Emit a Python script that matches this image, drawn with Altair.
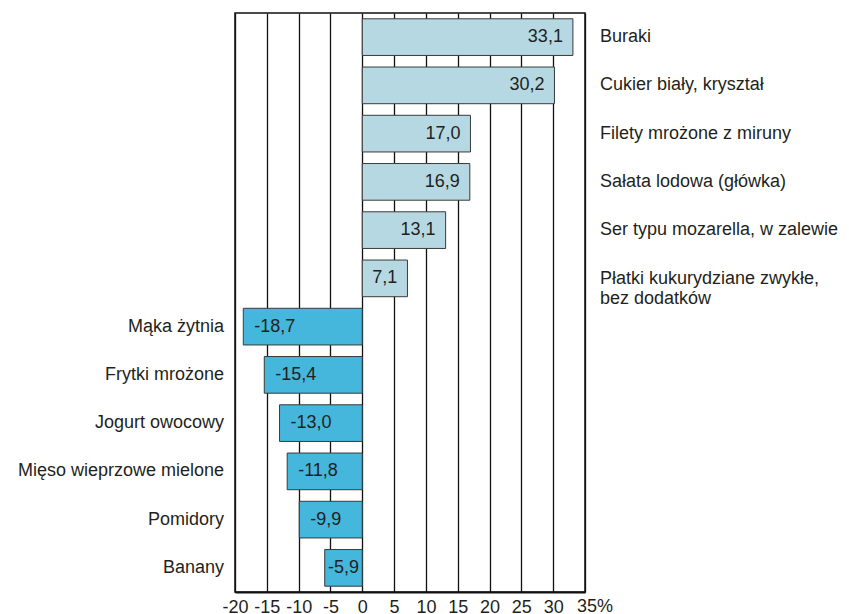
import altair as alt
import pandas as pd

pos_categories = ["Buraki", "Cukier biały, kryształ", "Filety mrożone z miruny",
                  "Sałata lodowa (główka)", "Ser typu mozarella, w zalewie",
                  "Płatki kukurydziane zwykłe,\nbez dodatków"]
pos_values = [33.1, 30.2, 17.0, 16.9, 13.1, 7.1]
neg_categories = ["Mąka żytnia", "Frytki mrożone", "Jogurt owocowy",
                  "Mięso wieprzowe mielone", "Pomidory", "Banany"]
neg_values = [-18.7, -15.4, -13.0, -11.8, -9.9, -5.9]
x_ticks = [-20, -15, -10, -5, 0, 5, 10, 15, 20, 25, 30, 35]
last_tick_label = "35%"

categories = pos_categories + neg_categories
df = pd.DataFrame({"cat": categories, "v": pos_values + neg_values})

FONT = "Liberation Sans"
TXT = "#231f20"
H = 579

base = alt.Chart(df).transform_calculate(
    lab="(datum.v < 0 ? '-' : '') + replace(format(abs(datum.v), '.1f'), '.', ',')",
    mid="datum.v / 2",
)

yenc = alt.Y("cat:N", sort=categories, axis=None,
             scale=alt.Scale(paddingInner=0.24, paddingOuter=0.12))
xscale = alt.Scale(domain=[-20, 35], nice=False, zero=False)
xaxis = alt.Axis(values=x_ticks, grid=True, gridColor="#111", gridWidth=1.3,
                 ticks=False, domainColor="#111", domainWidth=2,
                 labelFont=FONT, labelFontSize=18, labelColor=TXT,
                 labelPadding=6, labelOverlap=False, labelFlush=False,
                 labelExpr="datum.value == 35 ? '' : '' + datum.value")


def xenc(field):
    return alt.X(field, scale=xscale, title=None, axis=xaxis)


bars = base.mark_bar(stroke="#3a3a3a", strokeWidth=1).encode(
    x=xenc("v:Q"),
    x2=alt.datum(0),
    y=yenc,
    color=alt.condition("datum.v > 0", alt.value("#b5d8e3"), alt.value("#45b6dc")),
)

txt_kw = dict(font=FONT, fontSize=18, color=TXT, baseline="middle")

val_pos = base.transform_filter("datum.v >= 8").mark_text(align="right", dx=-10, **txt_kw).encode(
    x=xenc("v:Q"), y=yenc, text="lab:N")
val_neg = base.transform_filter("datum.v <= -8").mark_text(align="left", dx=11, **txt_kw).encode(
    x=xenc("v:Q"), y=yenc, text="lab:N")
val_small = base.transform_filter("abs(datum.v) < 8").mark_text(align="center", **txt_kw).encode(
    x=xenc("mid:Q"), y=yenc, text="lab:N")

cat_pos_single = base.transform_filter("datum.v > 0 && indexof(datum.cat, '\\n') < 0").mark_text(
    align="left", **txt_kw).encode(x=alt.value(365), y=yenc, text="cat:N")
cat_pos_multi = base.transform_filter("datum.v > 0 && indexof(datum.cat, '\\n') >= 0").mark_text(
    align="left", dy=1, lineBreak="\n", lineHeight=20, **txt_kw).encode(
    x=alt.value(365), y=yenc, text="cat:N")
cat_neg = base.transform_filter("datum.v < 0").mark_text(align="right", **txt_kw).encode(
    x=alt.value(-11), y=yenc, text="cat:N")

pct = alt.Chart(pd.DataFrame({"t": [x_ticks[-1]], "s": [last_tick_label]})).mark_text(
    font=FONT, fontSize=18, color=TXT, align="center", baseline="top", dx=10, dy=6).encode(
    x=alt.X("t:Q", scale=xscale, title=None, axis=xaxis), y=alt.value(H), text="s:N")

chart = alt.layer(bars, val_pos, val_neg, val_small, cat_pos_single, cat_pos_multi, cat_neg, pct).properties(
    width=350, height=H, autosize="none",
    padding={"left": 227, "top": 5, "right": 256, "bottom": 22},
).configure_view(stroke="#111", strokeWidth=1.5)

chart.save("out.html", embed_options={"renderer": "svg", "actions": False})
